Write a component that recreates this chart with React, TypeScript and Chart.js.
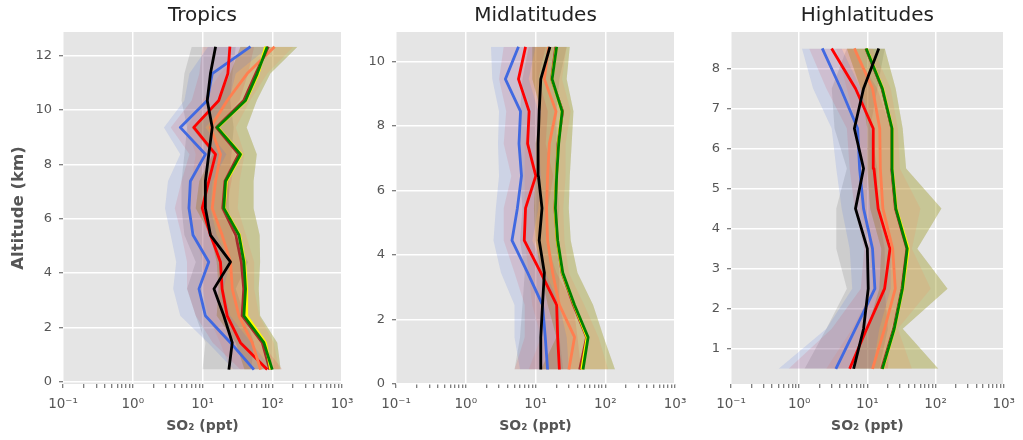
import React, { useEffect, useRef } from 'react';
import { Chart, registerables } from 'chart.js';

Chart.register(...registerables);

// ---------- axis ticks ----------
const X_MAJOR = [0.1, 1, 10, 100, 1000];
const X_MAJOR_LABELS = ['10⁻¹', '10⁰', '10¹', '10²', '10³'];
const X_MINOR = [0.2, 0.3, 0.4, 0.5, 0.6, 0.7, 0.8, 0.9, 2, 3, 4, 5, 6, 7, 8, 9, 20, 30, 40, 50, 60, 70, 80, 90, 200, 300, 400, 500, 600, 700, 800, 900];
const TROP_Y_TICKS = [0, 2, 4, 6, 8, 10, 12];
const MID_Y_TICKS = [0, 2, 4, 6, 8, 10];
const HIGH_Y_TICKS = [1, 2, 3, 4, 5, 6, 7, 8];

const TITLES = ['Tropics', 'Midlatitudes', 'Highlatitudes'];
const X_TITLE = 'SO₂ (ppt)';
const Y_TITLE = 'Altitude (km)';

// ---------- Tropics (altitude bottom -> top) ----------
const TROP_ALT = [0.45, 1.44, 2.43, 3.42, 4.41, 5.4, 6.39, 7.38, 8.37, 9.36, 10.35, 11.34, 12.33];
const TROP_BLUE = [54.6, 25.2, 11.0, 8.9, 12.3, 7.3, 6.4, 6.7, 11.0, 4.8, 11.7, 13.8, 48.8];
const TROP_BLUE_LO = [28, 12, 4.8, 3.8, 4.2, 3.5, 2.9, 3.2, 4.8, 2.8, 5.5, 6.5, 12];
const TROP_BLUE_HI = [100, 50, 25, 20, 25, 16, 13, 14, 22, 11, 24, 30, 90];
const TROP_RED = [84.7, 35.0, 22.6, 19.1, 18.1, 13.0, 9.9, 12.3, 15.4, 7.5, 17.1, 23.1, 24.7];
const TROP_RED_LO = [35, 14, 8, 6, 6, 5, 4, 5, 6.5, 3.5, 7, 9, 10];
const TROP_RED_HI = [140, 70, 45, 40, 38, 28, 22, 26, 30, 16, 34, 45, 55];
const TROP_CORAL = [68, 51.6, 33.3, 26.7, 25.2, 19.1, 13.8, 15.4, 18.1, 13.0, 22.6, 43.8, 108];
const TROP_CORAL_LO = [25, 18, 12, 10, 10, 8, 6, 7, 8, 6, 10, 18, 40];
const TROP_CORAL_HI = [125, 105, 65, 55, 55, 42, 32, 34, 40, 30, 48, 85, 200];
const TROP_BROWN = [92, 72, 37, 39, 36, 30, 19.5, 21, 33, 15.8, 39, 58, 88];
const TROP_YELLOW = [95, 80, 43, 43, 40, 34, 20.5, 22, 36, 16.5, 42, 63, 80];
const TROP_GREEN = [100, 75.9, 39.2, 41.4, 39.2, 33.3, 20.2, 21.4, 35.1, 16.2, 41.4, 60.9, 84.7];
const TROP_GREEN_LO = [40, 30, 16, 17, 16, 13, 8, 9, 14, 7, 17, 25, 35];
const TROP_GREEN_HI = [132, 118, 67, 64, 67, 66, 54, 54, 60, 43, 60, 94, 230];
const TROP_BLACK = [23.9, 26.7, 20.2, 14.6, 25.2, 13.0, 11.0, 11.0, 12.3, 13.8, 11.7, 13.0, 15.4];
const TROP_BLACK_LO = [10, 11, 8, 6, 8, 5.5, 5, 5, 5.5, 6, 5, 5.5, 7];
const TROP_BLACK_HI = [50, 55, 40, 30, 45, 27, 24, 24, 26, 28, 25, 27, 30];

// ---------- Midlatitudes ----------
const MID_ALT = [0.45, 1.45, 2.45, 3.45, 4.45, 5.45, 6.45, 7.45, 8.45, 9.45, 10.45];
const MID_BLUE = [14.9, 13.8, 12.6, 7.7, 4.6, 5.5, 6.3, 5.8, 6.1, 3.7, 5.7];
const MID_BLUE_LO = [6, 5, 5, 3.2, 2.5, 2.7, 3, 2.9, 3, 2.4, 2.3];
const MID_BLUE_HI = [30, 28, 22, 14, 9, 11, 12, 11, 11, 8, 10];
const MID_RED = [22.0, 20.8, 20.1, 11.9, 6.9, 7.2, 10.1, 7.7, 8.1, 5.7, 7.2];
const MID_RED_LO = [5, 7, 7, 5, 3.5, 3.5, 4.5, 3.5, 3.8, 3, 3.5];
const MID_RED_HI = [45, 40, 35, 20, 14, 15, 18, 14, 15, 11, 14];
const MID_CORAL = [30.1, 36.3, 22.0, 17.6, 14.9, 14.4, 14.9, 15.8, 19.7, 13.4, 15.4];
const MID_CORAL_LO = [8, 12, 9, 8, 7, 7, 7, 7, 9, 6, 7];
const MID_CORAL_HI = [110, 80, 50, 30, 26, 25, 27, 27, 32, 24, 28];
const MID_BROWN = [43, 54, 35, 24, 20.5, 19, 20, 21, 24.5, 17, 19.5];
const MID_YELLOW = [46, 55, 36, 24.3, 20.5, 19.1, 20, 21.3, 24, 17.2, 20];
const MID_GREEN = [48.0, 56.8, 36.3, 24.6, 20.8, 19.3, 20.1, 21.5, 24.1, 17.3, 20.1];
const MID_GREEN_LO = [12, 20, 15, 12, 10, 9.5, 10, 10, 12, 9, 9];
const MID_GREEN_HI = [138, 95, 67, 40, 32, 30, 31, 33, 35, 28, 31];
const MID_BLACK = [11.9, 11.9, 12.6, 13.4, 11.3, 12.4, 11.0, 10.9, 11.3, 11.9, 16.1];
const MID_BLACK_LO = [5, 6, 6.5, 7, 6, 6.5, 6, 6, 6, 6.5, 8];
const MID_BLACK_HI = [25, 22, 22, 22, 20, 22, 20, 20, 20, 22, 28];

// ---------- Highlatitudes ----------
const HIGH_ALT = [0.5, 1.5, 2.5, 3.5, 4.5, 5.5, 6.5, 7.5, 8.5];
const HIGH_BLUE = [3.45, 6.7, 12.9, 11.9, 8.8, 7.7, 7.2, 4.07, 2.18];
const HIGH_BLUE_LO = [0.5, 2.5, 6, 5.5, 4.2, 3.5, 3, 1.6, 1.1];
const HIGH_BLUE_HI = [12, 15, 22, 22, 15, 13, 12, 8, 4.2];
const HIGH_RED = [5.5, 9.8, 17.9, 21.5, 14.4, 12.5, 12.2, 6.7, 2.99];
const HIGH_RED_LO = [0.7, 3, 8, 9, 6.5, 5.5, 5, 2.5, 1.4];
const HIGH_RED_HI = [20, 22, 35, 40, 28, 24, 22, 14, 6];
const HIGH_CORAL = [11.9, 17.9, 25.7, 23.5, 16.9, 15.5, 15.2, 11.9, 6.45];
const HIGH_CORAL_LO = [2.5, 6, 12, 11, 8, 7.5, 7, 5, 3.5];
const HIGH_CORAL_HI = [45, 28, 85, 45, 60, 30, 28, 22, 12];
const HIGH_BROWN = [16.2, 24.3, 32.2, 38, 25.8, 22.7, 22.8, 16.4, 9.5];
const HIGH_YELLOW = [16.8, 25.0, 33.0, 40.0, 26.5, 23.2, 23.1, 16.8, 9.7];
const HIGH_GREEN = [16.6, 24.8, 32.7, 38.5, 26.2, 23.0, 23.0, 16.6, 9.6];
const HIGH_GREEN_LO = [6, 10, 15, 16, 11, 10, 10, 8, 5];
const HIGH_GREEN_HI = [110, 33, 150, 54, 122, 37, 33, 26, 18];
const HIGH_BLACK = [6.3, 8.8, 10.3, 10.0, 6.7, 8.8, 6.45, 8.8, 14.7];
const HIGH_BLACK_LO = [1.2, 2.5, 5, 3.5, 3.5, 5, 3.3, 3, 5];
const HIGH_BLACK_HI = [15, 20, 18, 18, 14, 14, 11, 14, 18];

// ---------- styling ----------
const FONT = 'DejaVu Sans';
const LINE_COLORS = ['#4169E1', '#FF0000', '#FF7F50', '#A52A2A', '#FFFF00', '#008000', '#000000'];
const FILL_COLORS = [
  'rgba(65,105,225,0.15)',
  'rgba(255,0,0,0.10)',
  'rgba(255,127,80,0.15)',
  'rgba(165,42,42,0.12)',
  'rgba(255,255,0,0.15)',
  'rgba(0,128,0,0.15)',
  'rgba(0,0,0,0.10)',
];

type Series = { values: number[]; lo: number[]; hi: number[] };

type PanelCfg = {
  title: string;
  alt: number[];
  series: Series[];
  yMin: number;
  yMax: number;
  yTicks: number[];
  canvasLeft: number;
  axisWidth: number;
  rightPad: number;
  showYTitle: boolean;
};

const PLOT_WIDTH = 279;

const PANELS: PanelCfg[] = [
  {
    title: TITLES[0],
    alt: TROP_ALT,
    series: [
      { values: TROP_BLUE, lo: TROP_BLUE_LO, hi: TROP_BLUE_HI },
      { values: TROP_RED, lo: TROP_RED_LO, hi: TROP_RED_HI },
      { values: TROP_CORAL, lo: TROP_CORAL_LO, hi: TROP_CORAL_HI },
      { values: TROP_BROWN, lo: TROP_GREEN_LO, hi: TROP_GREEN_HI },
      { values: TROP_YELLOW, lo: TROP_GREEN_LO, hi: TROP_GREEN_HI },
      { values: TROP_GREEN, lo: TROP_GREEN_LO, hi: TROP_GREEN_HI },
      { values: TROP_BLACK, lo: TROP_BLACK_LO, hi: TROP_BLACK_HI },
    ],
    yMin: -0.08,
    yMax: 12.87,
    yTicks: TROP_Y_TICKS,
    canvasLeft: 1,
    axisWidth: 62,
    rightPad: 20,
    showYTitle: true,
  },
  {
    title: TITLES[1],
    alt: MID_ALT,
    series: [
      { values: MID_BLUE, lo: MID_BLUE_LO, hi: MID_BLUE_HI },
      { values: MID_RED, lo: MID_RED_LO, hi: MID_RED_HI },
      { values: MID_CORAL, lo: MID_CORAL_LO, hi: MID_CORAL_HI },
      { values: MID_BROWN, lo: MID_GREEN_LO, hi: MID_GREEN_HI },
      { values: MID_YELLOW, lo: MID_GREEN_LO, hi: MID_GREEN_HI },
      { values: MID_GREEN, lo: MID_GREEN_LO, hi: MID_GREEN_HI },
      { values: MID_BLACK, lo: MID_BLACK_LO, hi: MID_BLACK_HI },
    ],
    yMin: 0,
    yMax: 10.91,
    yTicks: MID_Y_TICKS,
    canvasLeft: 346,
    axisWidth: 50,
    rightPad: 20,
    showYTitle: false,
  },
  {
    title: TITLES[2],
    alt: HIGH_ALT,
    series: [
      { values: HIGH_BLUE, lo: HIGH_BLUE_LO, hi: HIGH_BLUE_HI },
      { values: HIGH_RED, lo: HIGH_RED_LO, hi: HIGH_RED_HI },
      { values: HIGH_CORAL, lo: HIGH_CORAL_LO, hi: HIGH_CORAL_HI },
      { values: HIGH_BROWN, lo: HIGH_GREEN_LO, hi: HIGH_GREEN_HI },
      { values: HIGH_YELLOW, lo: HIGH_GREEN_LO, hi: HIGH_GREEN_HI },
      { values: HIGH_GREEN, lo: HIGH_GREEN_LO, hi: HIGH_GREEN_HI },
      { values: HIGH_BLACK, lo: HIGH_BLACK_LO, hi: HIGH_BLACK_HI },
    ],
    yMin: 0.12,
    yMax: 8.91,
    yTicks: HIGH_Y_TICKS,
    canvasLeft: 681,
    axisWidth: 50,
    rightPad: 13,
    showYTitle: false,
  },
];

const bgPlugin = {
  id: 'plotBg',
  beforeDraw(chart: any) {
    const { ctx, chartArea: a } = chart;
    if (!a) return;
    ctx.save();
    ctx.fillStyle = '#E5E5E5';
    ctx.fillRect(a.left, a.top, a.right - a.left, a.bottom - a.top);
    ctx.restore();
  },
};

function buildDatasets(cfg: PanelCfg) {
  const ds: any[] = [];
  cfg.series.forEach((s, i) => {
    ds.push({
      data: cfg.alt.map((a, k) => ({ x: s.lo[k], y: a })),
      borderWidth: 0,
      borderColor: 'rgba(0,0,0,0)',
      backgroundColor: 'rgba(0,0,0,0)',
      pointRadius: 0,
      fill: false,
      order: 100,
    });
    ds.push({
      data: cfg.alt.map((a, k) => ({ x: s.hi[k], y: a })),
      borderWidth: 0,
      borderColor: 'rgba(0,0,0,0)',
      backgroundColor: FILL_COLORS[i],
      pointRadius: 0,
      fill: '-1',
      order: 100,
    });
  });
  cfg.series.forEach((s, i) => {
    ds.push({
      data: cfg.alt.map((a, k) => ({ x: s.values[k], y: a })),
      borderColor: LINE_COLORS[i],
      backgroundColor: LINE_COLORS[i],
      borderWidth: 2.8,
      borderJoinStyle: 'round',
      pointRadius: 0,
      fill: false,
      order: cfg.series.length - i,
    });
  });
  return ds;
}

function Panel({ cfg }: { cfg: PanelCfg }) {
  const ref = useRef<HTMLCanvasElement>(null);
  const width = cfg.axisWidth + PLOT_WIDTH + cfg.rightPad;
  useEffect(() => {
    if (!ref.current) return;
    const allX = [...X_MAJOR, ...X_MINOR].sort((a, b) => a - b);
    const chart = new Chart(ref.current, {
      type: 'line',
      data: { datasets: buildDatasets(cfg) },
      plugins: [bgPlugin],
      options: {
        responsive: false,
        animation: false,
        devicePixelRatio: 1,
        indexAxis: 'y',
        events: [],
        layout: { padding: { left: 0, right: cfg.rightPad, top: 0, bottom: 0 } },
        elements: { line: { tension: 0 }, point: { radius: 0 } },
        plugins: {
          legend: { display: false },
          tooltip: { enabled: false },
          filler: { drawTime: 'beforeDatasetsDraw', propagate: false },
          title: {
            display: true,
            text: cfg.title,
            fullSize: false,
            color: '#222222',
            font: { family: FONT, size: 20, weight: 'normal', lineHeight: 1.2 },
            padding: { top: 3.6, bottom: 4.4 },
          },
        } as any,
        scales: {
          x: {
            type: 'logarithmic',
            min: 0.1,
            max: 1000,
            afterBuildTicks: (s: any) => {
              s.ticks = allX.map((v) => ({ value: v, major: X_MAJOR.includes(v) }));
            },
            afterFit: (s: any) => {
              s.height = 56;
            },
            border: { display: false },
            grid: {
              color: (c: any) => (c.tick && X_MAJOR.includes(c.tick.value) ? '#FFFFFF' : 'rgba(0,0,0,0)'),
              lineWidth: 1.5,
              drawTicks: true,
              tickLength: 4,
              tickColor: '#555555',
              tickWidth: 1,
            },
            ticks: {
              autoSkip: false,
              maxRotation: 0,
              minRotation: 0,
              padding: 8,
              color: '#555555',
              font: { family: FONT, size: 13.5 },
              callback: (v: any) => {
                const i = X_MAJOR.indexOf(Number(v));
                return i >= 0 ? X_MAJOR_LABELS[i] : '';
              },
            },
            title: {
              display: true,
              text: X_TITLE,
              color: '#555555',
              font: { family: FONT, size: 14, weight: 'bold', lineHeight: 1.2 },
              padding: { top: 0, bottom: 5 },
            },
          },
          y: {
            type: 'linear',
            min: cfg.yMin,
            max: cfg.yMax,
            afterBuildTicks: (s: any) => {
              s.ticks = cfg.yTicks.map((v) => ({ value: v }));
            },
            afterFit: (s: any) => {
              s.width = cfg.axisWidth;
            },
            border: { display: false },
            grid: {
              color: '#FFFFFF',
              lineWidth: 1.5,
              drawTicks: true,
              tickLength: 4,
              tickColor: '#555555',
              tickWidth: 1,
            },
            ticks: {
              padding: 7,
              color: '#555555',
              font: { family: FONT, size: 13 },
              callback: (v: any) => String(v),
            },
            title: {
              display: cfg.showYTitle,
              text: Y_TITLE,
              color: '#555555',
              font: { family: FONT, size: 16.5, weight: 'bold', lineHeight: 1.2 },
              padding: { top: 8, bottom: 0 },
            },
          },
        } as any,
      } as any,
    });
    return () => chart.destroy();
  }, [cfg]);
  return (
    <canvas
      ref={ref}
      width={width}
      height={440}
      style={{ position: 'absolute', left: cfg.canvasLeft, top: 0, width, height: 440 }}
    />
  );
}

export default function App() {
  return (
    <div
      style={{
        position: 'fixed',
        left: 0,
        top: 0,
        width: 1023,
        height: 440,
        background: '#FFFFFF',
        overflow: 'hidden',
      }}
    >
      {PANELS.map((p) => (
        <Panel key={p.title} cfg={p} />
      ))}
    </div>
  );
}
